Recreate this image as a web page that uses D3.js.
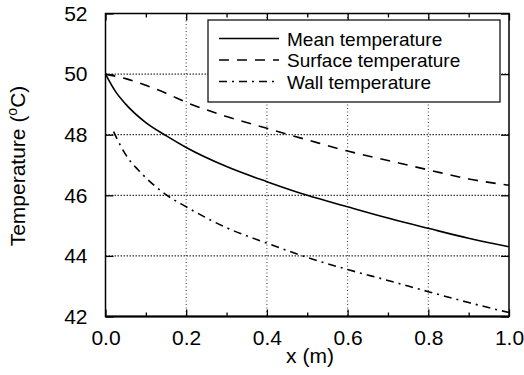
<!DOCTYPE html>
<html><head><meta charset="utf-8">
<script src="https://cdn.jsdelivr.net/npm/d3@7"></script>
<style>
html,body{margin:0;padding:0;background:#fff;}
text{font-family:"Liberation Sans",Arial,Helvetica,sans-serif;fill:#000;}
</style></head>
<body>
<svg id="chart" width="524" height="375"></svg>
<script>
// ---- data ----
const meanX = [0, 0.025, 0.05, 0.1, 0.15, 0.2, 0.3, 0.4, 0.5, 0.6, 0.7, 0.8, 0.9, 1.0];
const meanT = [50, 49.42, 49.01, 48.4, 47.97, 47.58, 46.95, 46.45, 46.0, 45.62, 45.25, 44.91, 44.58, 44.3];
const surfX = [0, 0.025, 0.05, 0.1, 0.15, 0.2, 0.3, 0.4, 0.5, 0.6, 0.7, 0.8, 0.9, 1.0];
const surfT = [50, 49.93, 49.85, 49.63, 49.37, 49.07, 48.6, 48.21, 47.83, 47.46, 47.15, 46.84, 46.54, 46.33];
const wallX = [0.02, 0.04, 0.06, 0.08, 0.1, 0.15, 0.2, 0.3, 0.4, 0.5, 0.6, 0.7, 0.8, 0.9, 1.0];
const wallT = [48.1, 47.57, 47.15, 46.85, 46.58, 46.02, 45.62, 44.93, 44.42, 43.95, 43.55, 43.19, 42.82, 42.46, 42.13];
const seriesNames = ["Mean temperature", "Surface temperature", "Wall temperature"];
const xTicks = [0, 0.2, 0.4, 0.6, 0.8, 1.0];
const xMinorTicks = [0.1, 0.3, 0.5, 0.7, 0.9];
const yTicks = [42, 44, 46, 48, 50, 52];
const xLabel = "x (m)";

// ---- layout ----
const svg = d3.select("#chart");
const L = 105.5, R = 509, T = 13.5, B = 316.5;
const x = d3.scaleLinear().domain([0, 1]).range([L, R]);
const y = d3.scaleLinear().domain([42, 52]).range([B, T]);

// grid
const grid = svg.append("g");
grid.selectAll("line.gx").data(xTicks.filter(d => d > 0 && d < 1)).join("line")
  .attr("x1", d => x(d)).attr("x2", d => x(d)).attr("y1", T).attr("y2", B)
  .attr("stroke", "#000").attr("stroke-width", 0.8).attr("stroke-dasharray", "1,2.5");
grid.selectAll("line.gy").data(yTicks.filter(d => d > 42 && d < 52)).join("line")
  .attr("x1", L).attr("x2", R).attr("y1", d => y(d)).attr("y2", d => y(d))
  .attr("stroke", "#000").attr("stroke-width", 1).attr("stroke-dasharray", "1.5,1.5");

// axes (ticks inside)
const fmt = d3.format(".1f");
const axB = svg.append("g").attr("transform", `translate(0,${B})`)
  .call(d3.axisBottom(x).tickValues(xTicks).tickFormat(fmt).tickSizeInner(-7).tickSizeOuter(0).tickPadding(14));
const axBm = svg.append("g").attr("transform", `translate(0,${B})`)
  .call(d3.axisBottom(x).tickValues(xMinorTicks).tickFormat("").tickSizeInner(-4).tickSizeOuter(0));
const axT = svg.append("g").attr("transform", `translate(0,${T})`)
  .call(d3.axisTop(x).tickValues(xTicks).tickFormat("").tickSizeInner(-7).tickSizeOuter(0));
const axTm = svg.append("g").attr("transform", `translate(0,${T})`)
  .call(d3.axisTop(x).tickValues(xMinorTicks).tickFormat("").tickSizeInner(-4).tickSizeOuter(0));
const axL = svg.append("g").attr("transform", `translate(${L},0)`)
  .call(d3.axisLeft(y).tickValues(yTicks).tickFormat(d3.format("d")).tickSizeInner(-8).tickSizeOuter(0).tickPadding(18));
const axR = svg.append("g").attr("transform", `translate(${R},0)`)
  .call(d3.axisRight(y).tickValues(yTicks).tickFormat("").tickSizeInner(-8).tickSizeOuter(0));
[axB, axBm, axT, axTm, axL, axR].forEach(a => {
  a.select(".domain").remove();
  a.selectAll(".tick line").attr("stroke", "#000").attr("stroke-width", 1.3);
  a.selectAll("text").attr("font-size", 21).attr("font-family", "Liberation Sans, Arial, sans-serif").attr("fill", "#000");
});
axB.selectAll("text").attr("dy", "0.71em");

// frame
svg.append("rect").attr("x", L).attr("y", T).attr("width", R - L).attr("height", B - T)
  .attr("fill", "none").attr("stroke", "#000").attr("stroke-width", 1.5);
svg.append("line").attr("x1", L).attr("x2", R).attr("y1", B).attr("y2", B)
  .attr("stroke", "#000").attr("stroke-width", 2.2);

// lines
const styles = [
  {dash: null},
  {dash: "10,8"},
  {dash: "8,5,2,5"}
];
const data = [
  meanX.map((d, i) => [d, meanT[i]]),
  surfX.map((d, i) => [d, surfT[i]]),
  wallX.map((d, i) => [d, wallT[i]])
];
const line = d3.line().x(d => x(d[0])).y(d => y(d[1])).curve(d3.curveMonotoneX);
svg.append("g").selectAll("path").data(data).join("path")
  .attr("d", line).attr("fill", "none").attr("stroke", "#000").attr("stroke-width", 1.6)
  .attr("stroke-dasharray", (d, i) => styles[i].dash);

// legend
const lg = svg.append("g");
lg.append("rect").attr("x", 208).attr("y", 20).attr("width", 292).attr("height", 82)
  .attr("fill", "#fff").attr("stroke", "#000").attr("stroke-width", 1.2);
const rowsY = [38.5, 60, 81.5];
seriesNames.forEach((n, i) => {
  lg.append("line").attr("x1", 219).attr("x2", 279).attr("y1", rowsY[i]).attr("y2", rowsY[i])
    .attr("stroke", "#000").attr("stroke-width", 1.4).attr("stroke-dasharray", styles[i].dash);
  lg.append("text").attr("x", 287).attr("y", rowsY[i] + 7).attr("font-size", 19).attr("textLength", null).text(n);
});

// axis titles
svg.append("text").attr("x", 310).attr("y", 363).attr("text-anchor", "middle").attr("font-size", 21).text(xLabel);
const yl = svg.append("text").attr("transform", "translate(25,166) rotate(-90)")
  .attr("text-anchor", "middle").attr("font-size", 21);
yl.append("tspan").text("Temperature (");
yl.append("tspan").attr("font-size", 14).attr("dy", -8).text("o");
yl.append("tspan").attr("dy", 8).text("C)");
</script>
</body></html>
